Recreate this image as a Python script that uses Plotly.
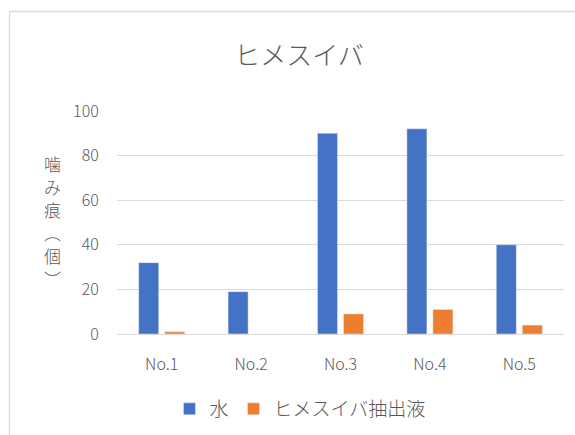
import plotly.graph_objects as go

categories = ["No.1", "No.2", "No.3", "No.4", "No.5"]
water = [32, 19, 90, 92, 40]
extract = [1, 0, 9, 11, 4]
series_names = ["水", "ヒメスイバ抽出液"]
title_text = "ヒメスイバ"
y_title = "噛み痕︵個︶"
y_ticks = [0, 20, 40, 60, 80, 100]

FONT = "Noto Sans CJK JP"
TXT = "#595959"
GRID = "#d9d9d9"

W, H = 575, 435
ML, MR, MT, MB = 117, 11, 111, 101

fig = go.Figure()
fig.add_trace(go.Bar(x=categories, y=water, name=series_names[0], marker_color="#4472C4"))
fig.add_trace(go.Bar(x=categories, y=extract, name=series_names[1], marker_color="#ED7D31"))

pw = W - ML - MR
ph = H - MT - MB

def px_x(x):
    return (x - ML) / pw

def px_y(y):
    return (H - MB - y) / ph

fig.update_layout(
    width=W, height=H,
    margin=dict(l=ML, r=MR, t=MT, b=MB, autoexpand=False),
    paper_bgcolor="white", plot_bgcolor="white",
    barmode="group", bargap=0.418, bargroupgap=0.23,
    font=dict(family=FONT, color=TXT, size=16, weight=300),
    title=dict(text=title_text, x=299 / W, y=1 - 56 / H, xanchor="center", yanchor="middle",
               font=dict(family=FONT, size=26, color=TXT, weight=300)),
    showlegend=True,
    legend=dict(orientation="h", x=px_x(300), y=px_y(409), xanchor="center", yanchor="middle",
                font=dict(family=FONT, size=19, color=TXT, weight=300), itemwidth=30,
                traceorder="normal"),
    xaxis=dict(showgrid=False, showline=False, zeroline=False, ticks="outside", ticklen=16,
               tickcolor="rgba(0,0,0,0)", tickfont=dict(size=16, color=TXT, weight=300)),
    yaxis=dict(range=[0, 100], tickvals=y_ticks, showgrid=True, gridcolor=GRID, gridwidth=1.3,
               zeroline=True, zerolinecolor=GRID, zerolinewidth=1.3, showline=False,
               ticks="outside", ticklen=14, tickcolor="rgba(0,0,0,0)",
               tickfont=dict(size=16, color=TXT, weight=300)),
)

# vertical (stacked) y-axis title, one character per line
y0_px, step_px = 163, 23
for i, ch in enumerate(y_title):
    fig.add_annotation(text=ch, xref="paper", yref="paper",
                       x=px_x(52), y=px_y(y0_px + i * step_px), xanchor="center", yanchor="middle",
                       showarrow=False, borderpad=0,
                       font=dict(family=FONT, size=17, color=TXT, weight=300))

# chart frame (top and left edges visible in reference)
fig.add_shape(type="line", xref="paper", yref="paper", x0=px_x(9.5), x1=px_x(580), y0=px_y(11.5), y1=px_y(11.5),
              line=dict(color=GRID, width=1.3))
fig.add_shape(type="line", xref="paper", yref="paper", x0=px_x(9.5), x1=px_x(9.5), y0=px_y(11.5), y1=px_y(440),
              line=dict(color=GRID, width=1.3))

fig.write_html("out.html")
